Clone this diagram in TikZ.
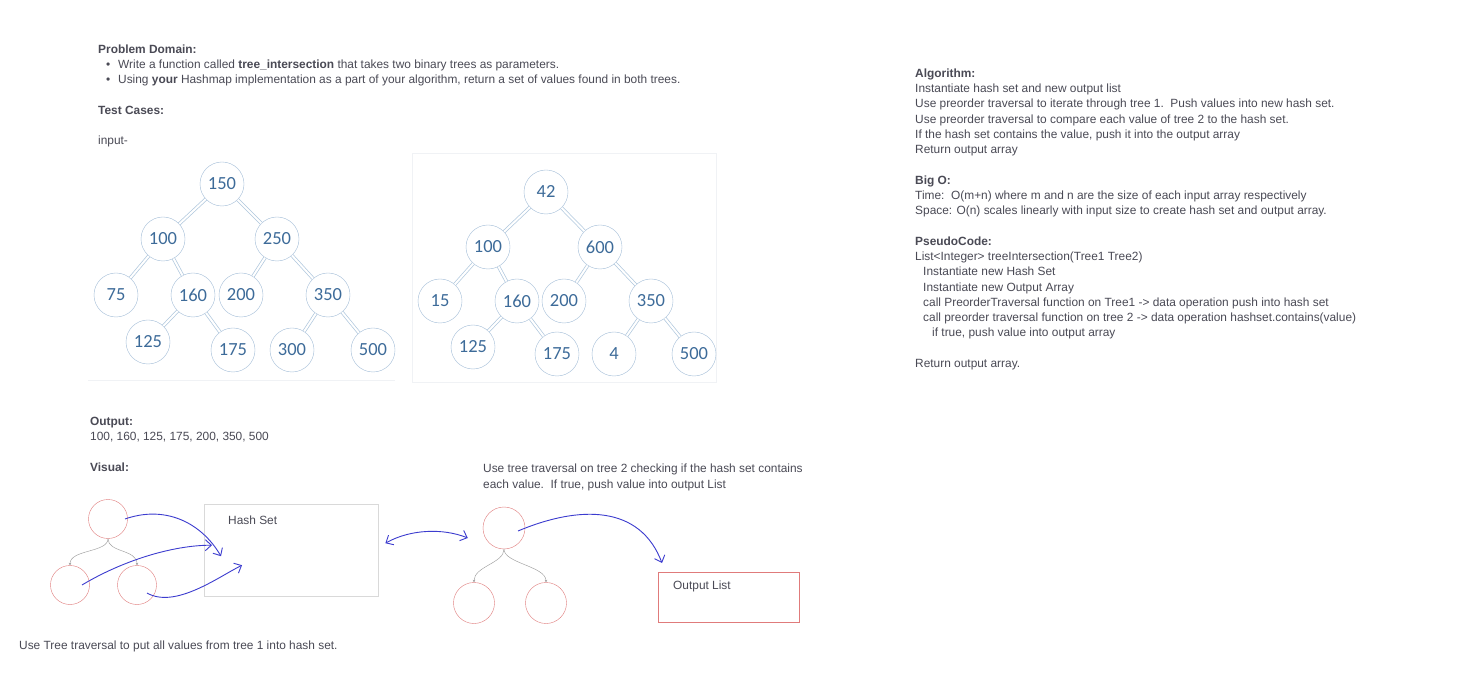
\documentclass[tikz,border=0pt]{standalone}
\usepackage{fontspec}
\setmainfont{Liberation Sans}
\newfontfamily\digitfont{Carlito}
\usepackage{xcolor}
\usetikzlibrary{arrows.meta,shadows}
\definecolor{ink}{HTML}{4A4A55}
\definecolor{knotline}{HTML}{A4BED8}
\definecolor{knottext}{HTML}{3D6B99}
\definecolor{limbline}{HTML}{AFC7DD}
\definecolor{penblue}{HTML}{3C3CCF}
\definecolor{sketchred}{HTML}{E07B7B}
\definecolor{framegray}{HTML}{F0F2F5}

\begin{document}
\begin{tikzpicture}[x=1pt, y=-1pt,
  txt/.style={anchor=base west, inner sep=0pt, text=ink,
    font=\fontsize{11.9}{15.2}\selectfont},
  head/.style={txt, font=\fontsize{11.9}{15.2}\selectfont\bfseries},
  block/.style={anchor=north west, inner sep=0pt, text=ink, align=left,
    font=\fontsize{11.9}{15.2}\selectfont},
  knot/.style={circle, draw=knotline, fill=white, minimum size=44pt,
    inner sep=0pt, text=knottext, font=\digitfont\fontsize{18.5}{18.5}\selectfont},
  limb/.style={draw=limbline, line width=0.7pt, double=white, double distance=2pt},
  blob/.style={circle, draw=sketchred, minimum size=39pt, inner sep=0pt},
  card/.style={rectangle, draw=gray!30, fill=white, anchor=north west,
    inner sep=0pt, drop shadow={shadow xshift=0.6pt, shadow yshift=-1pt, opacity=0.12}},
  twig/.style={draw=gray!75, line width=0.45pt, -{Stealth[length=2.5pt,width=2.5pt]}},
  pen/.style={draw=penblue, line width=0.9pt, -{Straight Barb[length=6pt,width=11pt]}},
]
\useasboundingbox (0,0) rectangle (1460,692);
\fill[white] (0,0) rectangle (1460,692);

% Problem text
\node[head] (dom) at (98,54) {Problem Domain:};
\node[txt] (bul1) at (106,69) {\makebox[12pt][l]{\textbullet}Write a function called \textbf{tree\_intersection} that takes two binary trees as parameters.};
\node[txt] (bul2) at (106,84) {\makebox[12pt][l]{\textbullet}Using \textbf{your} Hashmap implementation as a part of your algorithm, return a set of values found in both trees.};
\node[head] (cases) at (98,115) {Test Cases:};
\node[txt] (input) at (98,145) {input-};

% Tree 1
\draw[framegray] (88,380) -- (395,380);
\node[knot] (a150) at (222,184) {150};
\node[knot] (a100) at (163,239) {100};
\node[knot] (a250) at (277,239) {250};
\node[knot] (a75) at (116,295) {75};
\node[knot] (a160) at (193,295) {160};
\node[knot] (a200) at (241,295) {200};
\node[knot] (a350) at (328,295) {350};
\node[knot] (a125) at (148,342) {125};
\node[knot] (a175) at (233,350) {175};
\node[knot] (a300) at (292,350) {300};
\node[knot] (a500) at (373,350) {500};
\draw[limb] (a150) -- (a100); \draw[limb] (a150) -- (a250);
\draw[limb] (a100) -- (a75); \draw[limb] (a100) -- (a160);
\draw[limb] (a250) -- (a200); \draw[limb] (a250) -- (a350);
\draw[limb] (a160) -- (a125); \draw[limb] (a160) -- (a175);
\draw[limb] (a350) -- (a300); \draw[limb] (a350) -- (a500);

% Tree 2
\draw[framegray] (412,153) rectangle (716,382);
\node[knot] (b42) at (546,192) {42};
\node[knot] (b100) at (488,247) {100};
\node[knot] (b600) at (600,247) {600};
\node[knot] (b15) at (440,301) {15};
\node[knot] (b160) at (517,301) {160};
\node[knot] (b200) at (564,301) {200};
\node[knot] (b350) at (651,301) {350};
\node[knot] (b125) at (473,347) {125};
\node[knot] (b175) at (557,354) {175};
\node[knot] (b4) at (614,354) {4};
\node[knot] (b500) at (694,354) {500};
\draw[limb] (b42) -- (b100); \draw[limb] (b42) -- (b600);
\draw[limb] (b100) -- (b15); \draw[limb] (b100) -- (b160);
\draw[limb] (b600) -- (b200); \draw[limb] (b600) -- (b350);
\draw[limb] (b160) -- (b125); \draw[limb] (b160) -- (b175);
\draw[limb] (b350) -- (b4); \draw[limb] (b350) -- (b500);

% Output
\node[head] (outh) at (90,426) {Output:};
\node[txt] (outv) at (90,441) {100, 160, 125, 175, 200, 350, 500};
\node[head] (vis) at (90,472) {Visual:};

% Visual: tree 1 into hash set
\node[blob] (p1) at (108,519) {};
\node[blob] (l1) at (70,585) {};
\node[blob] (r1) at (137,585) {};
\draw[twig] (p1.south) .. controls +(0,14) and +(0,-16) .. (l1.north);
\draw[twig] (p1.south) .. controls +(0,14) and +(0,-16) .. (r1.north);
\node[card, minimum width=174pt, minimum height=92pt] (hset) at (204,504) {};
\node[txt] (hlab) at (228,525) {Hash Set};
\draw[pen] ([xshift=17pt]p1.center) .. controls +(40,-14) and +(-20,-34) .. ([shift={(17,6)}]hset.west);
\draw[pen] ([xshift=12pt]l1.center) .. controls +(40,-24) and +(-40,0) .. ([shift={(8,-5)}]hset.west);
\draw[pen] ([shift={(10,8)}]r1.center) .. controls +(28,16) and +(-24,12) .. ([shift={(38,15)}]hset.west);
\node[txt] (note1) at (19,649) {Use Tree traversal to put all values from tree 1 into hash set.};

% Visual: tree 2 into output list
\node[txt] (note2a) at (483,473) {Use tree traversal on tree 2 checking if the hash set contains};
\node[txt] (note2b) at (483,489) {each value.\ \ If true, push value into output List};
\node[blob, minimum size=42pt] (p2) at (504,528) {};
\node[blob, minimum size=41pt] (l2) at (474,603) {};
\node[blob, minimum size=41pt] (r2) at (546,603) {};
\draw[twig] (p2.south) .. controls +(0,14) and +(0,-16) .. (l2.north);
\draw[twig] (p2.south) .. controls +(0,14) and +(0,-16) .. (r2.north);
\node[rectangle, draw=sketchred, anchor=north west, minimum width=141pt,
  minimum height=50pt, inner sep=0pt] (olist) at (658,572) {};
\node[txt] (olab) at (673,589) {Output List};
\draw[pen, {Straight Barb[length=6pt,width=11pt]}-{Straight Barb[length=6pt,width=11pt]}]
  ([shift={(7,-7)}]hset.east) .. controls +(25,-14) and +(-25,-10) .. ([shift={(-15,10)}]p2.west);
\draw[pen] ([shift={(14,3)}]p2.center) .. controls +(62,-26) and +(-22,-58) .. ([shift={(4,-9)}]olist.north west);

% Right column
\node[block] (algo) at (915,68.7) {\textbf{Algorithm:}\\
Instantiate hash set and new output list\\
Use preorder traversal to iterate through tree 1.\ \ Push values into new hash set.\\
Use preorder traversal to compare each value of tree 2 to the hash set.\\
If the hash set contains the value, push it into the output array\\
Return output array};
\node[block] (bigo) at (915,175.4) {\textbf{Big O:}\\
Time:\ \ O(m+n) where m and n are the size of each input array respectively\\
Space: O(n) scales linearly with input size to create hash set and output array.};
\node[block] (pseudo) at (915,236.7) {\textbf{PseudoCode:}\\
List<Integer> treeIntersection(Tree1 Tree2)\\
\hspace*{8pt}Instantiate new Hash Set\\
\hspace*{8pt}Instantiate new Output Array\\
\hspace*{8pt}call PreorderTraversal function on Tree1 -> data operation push into hash set\\
\hspace*{8pt}call preorder traversal function on tree 2 -> data operation hashset.contains(value)\\
\hspace*{17pt}if true, push value into output array\\[15.2pt]
Return output array.};
\end{tikzpicture}
\end{document}
